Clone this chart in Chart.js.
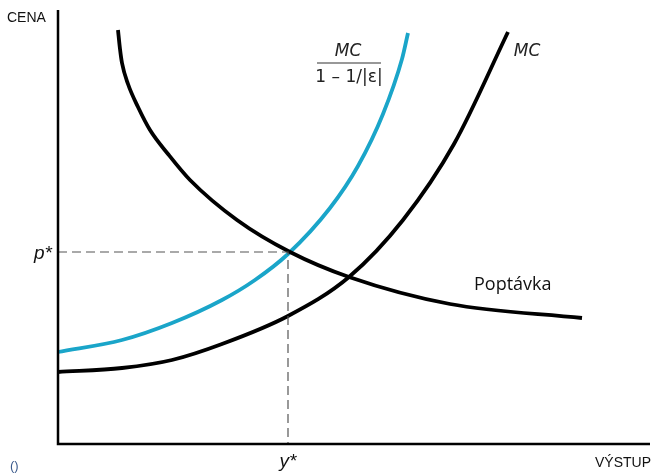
<!DOCTYPE html>
<html>
<head>
<meta charset="utf-8">
<script src="https://cdn.jsdelivr.net/npm/chart.js@4"></script>
<style>
  body { margin: 0; background: #fff; }
  canvas { display: block; }
</style>
</head>
<body>
<canvas id="chart" width="653" height="474"></canvas>
<script>
// curve points (x = output, y = price)
const demandX = [60, 62, 64, 70, 80, 92, 110, 132, 179, 232, 291, 392, 524];
const demandY = [414, 395, 381, 360, 337, 314, 290, 264, 224, 192, 167, 140, 126];

const markupX = [0, 64, 114, 164, 197, 230, 272, 300, 325, 344, 350];
const markupY = [92, 104, 121, 144, 164, 190, 236, 278, 330, 385, 411];

const mcX = [0, 64, 114, 164, 230, 291, 345, 396, 450];
const mcY = [72, 76, 84, 100, 128, 167, 224, 300, 412];

// equilibrium
const yStar = 230;
const pStar = 192;

const xMax = 592;
const yMax = 434;

const toPoints = (xs, ys) => xs.map((x, i) => ({ x: x, y: ys[i] }));

const lineDefaults = {
    showLine: true,
    pointRadius: 0,
    fill: false,
    clip: false,
    cubicInterpolationMode: 'monotone'
};

// axes, labels and fraction
const decorations = {
    id: 'decorations',
    afterDraw(chart) {
        const { ctx, scales: { x, y } } = chart;
        const x0 = x.getPixelForValue(0), x1 = x.getPixelForValue(xMax);
        const y0 = y.getPixelForValue(0), y1 = y.getPixelForValue(yMax);
        ctx.save();
        ctx.strokeStyle = '#000';
        ctx.lineWidth = 2.5;
        ctx.beginPath();
        ctx.moveTo(x0, y1);
        ctx.lineTo(x0, y0);
        ctx.lineTo(x1, y0);
        ctx.stroke();

        ctx.fillStyle = '#111';
        ctx.textBaseline = 'middle';
        ctx.font = '14px "Liberation Sans", Arial, sans-serif';
        ctx.textAlign = 'left';
        ctx.fillText('CENA', 7, 18);
        ctx.textAlign = 'right';
        ctx.fillText('VÝSTUP', 651, 463);

        ctx.font = 'italic 19px "Liberation Sans", Arial, sans-serif';
        ctx.textAlign = 'right';
        ctx.fillText('p*', x0 - 6, y.getPixelForValue(pStar) + 2);
        ctx.textAlign = 'center';
        ctx.fillText('y*', x.getPixelForValue(yStar), 462);

        ctx.font = '18px "Open Sans", "Noto Sans", sans-serif';
        ctx.textAlign = 'left';
        ctx.fillText('Poptávka', 474, 285);

        // MC / (1 - 1/|e|)
        ctx.fillStyle = '#222';
        ctx.font = 'italic 17px "DejaVu Sans", sans-serif';
        ctx.textAlign = 'center';
        ctx.fillText('MC', 348, 52);
        ctx.fillText('MC', 527, 52);
        ctx.font = '17px "DejaVu Sans", sans-serif';
        ctx.fillText('1 \u2013 1/|\u03b5|', 349, 78);
        ctx.strokeStyle = '#333';
        ctx.lineWidth = 1.2;
        ctx.beginPath();
        ctx.moveTo(317, 63);
        ctx.lineTo(381, 63);
        ctx.stroke();

        ctx.fillStyle = '#3b5a8c';
        ctx.font = '13px "Liberation Sans", Arial, sans-serif';
        ctx.textAlign = 'left';
        ctx.fillText('()', 10, 466);
        ctx.restore();
    }
};

new Chart(document.getElementById('chart'), {
    type: 'scatter',
    data: {
        datasets: [
            {
                label: 'guide',
                data: [{ x: 0, y: pStar }, { x: yStar, y: pStar }, { x: yStar, y: 0 }],
                showLine: true,
                pointRadius: 0,
                borderColor: '#555',
                borderWidth: 1.2,
                borderDash: [9, 5],
                tension: 0,
                clip: false
            },
            { ...lineDefaults, label: 'Poptávka', data: toPoints(demandX, demandY), borderColor: '#000', borderWidth: 3.8 },
            { ...lineDefaults, label: 'MC', data: toPoints(mcX, mcY), borderColor: '#000', borderWidth: 3.8 },
            { ...lineDefaults, label: 'MC/(1-1/|e|)', data: toPoints(markupX, markupY), borderColor: '#1aa5c9', borderWidth: 3.8 }
        ]
    },
    options: {
        responsive: false,
        animation: false,
        layout: { padding: { left: 58, right: 3, top: 10, bottom: 30 } },
        plugins: { legend: { display: false }, tooltip: { enabled: false } },
        scales: {
            x: { type: 'linear', min: 0, max: xMax, display: false },
            y: { type: 'linear', min: 0, max: yMax, display: false }
        }
    },
    plugins: [decorations]
});
</script>
</body>
</html>
